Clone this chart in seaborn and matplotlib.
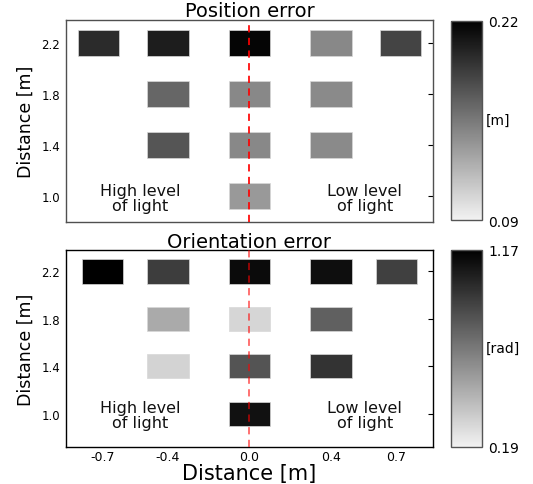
import numpy as np
import pandas as pd
import matplotlib
matplotlib.use("Agg")
import matplotlib.pyplot as plt
import matplotlib.colors as mcolors
import seaborn as sns

# Cell positions (lateral offset, distance) and measured errors
x_top = [-0.74, -0.4, 0.0, 0.4, 0.74, -0.4, 0.0, 0.4, -0.4, 0.0, 0.4, 0.0]
x_bottom = [-0.72, -0.4, 0.0, 0.4, 0.72, -0.4, 0.0, 0.4, -0.4, 0.0, 0.4, 0.0]
y_dist = [2.2, 2.2, 2.2, 2.2, 2.2, 1.8, 1.8, 1.8, 1.4, 1.4, 1.4, 1.0]
pos_err = [0.197, 0.204, 0.217, 0.147, 0.183, 0.165, 0.147, 0.146, 0.174, 0.147, 0.146, 0.138]
ori_err = [1.17, 0.923, 1.121, 1.109, 0.911, 0.482, 0.303, 0.781, 0.319, 0.826, 0.963, 1.101]

pos_range = (0.09, 0.22)
ori_range = (0.19, 1.17)
y_ticks = [1.0, 1.4, 1.8, 2.2]
x_tick_labels = ["-0.7", "-0.4", "0.0", "0.4", "0.7"]

sns.set_style("white")
plt.rcParams["font.family"] = ["DejaVu Sans"]
plt.rcParams["text.color"] = "black"
plt.rcParams["axes.labelcolor"] = "black"
plt.rcParams["xtick.color"] = "black"
plt.rcParams["ytick.color"] = "black"

cmap = sns.blend_palette(["#f2f2f2", "#000000"], as_cmap=True)

fig = plt.figure(figsize=(5.33, 4.85), dpi=100)
ax1 = fig.add_axes([0.1238, 0.5396, 0.6886, 0.4171])
ax2 = fig.add_axes([0.1238, 0.0763, 0.6886, 0.4052])
cax1 = fig.add_axes([0.8462, 0.5443, 0.0576, 0.4113])
cax2 = fig.add_axes([0.8462, 0.0763, 0.0576, 0.4068])

ax1.set_xlim(-0.9, 0.9)
ax1.set_ylim(0.797, 2.38)
ax2.set_xlim(-0.9, 0.9)
ax2.set_ylim(0.718, 2.377)


def rect_marker(ax, w=0.2, h=0.2):
    # rectangle marker that spans w x h data units
    p0 = ax.transData.transform((0, 0))
    p1 = ax.transData.transform((w, h))
    wpx, hpx = p1 - p0
    verts = [(-wpx / 2, -hpx / 2), (wpx / 2, -hpx / 2), (wpx / 2, hpx / 2),
             (-wpx / 2, hpx / 2), (-wpx / 2, -hpx / 2)]
    size = (max(wpx, hpx) * 72 / fig.dpi) ** 2
    return verts, size


def draw_panel(ax, cax, xs, vals, vrange, title, unit, line_alpha, title_pad):
    df = pd.DataFrame({"x": xs, "y": y_dist, "err": vals})
    verts, size = rect_marker(ax, 0.204, 0.204)
    sns.scatterplot(data=df, x="x", y="y", hue="err", palette=cmap, hue_norm=vrange,
                    marker=verts, s=size, edgecolor="#d8d8d8", linewidth=0.5,
                    legend=False, ax=ax, zorder=2)
    ax.axvline(0, color="red", lw=1.3, ls=(0, (4, 3)), alpha=line_alpha, zorder=3)
    ax.text(-0.534, 0.99, "High level\nof light", ha="center", va="center",
            fontsize=11.5, linespacing=1.0, color="#111111")
    ax.text(0.565, 0.99, "Low level\nof light", ha="center", va="center",
            fontsize=11.5, linespacing=1.0, color="#111111")
    ax.set_title(title, fontsize=14, pad=title_pad)
    ax.set_ylabel("Distance [m]", fontsize=12.5, labelpad=5)
    ax.set_xlabel("")
    ax.set_yticks(y_ticks)
    ax.set_yticklabels([f"{t:.1f}" for t in y_ticks])
    ax.tick_params(axis="y", which="both", left=False, right=True, direction="in",
                   length=3.5, labelsize=8.5, pad=4.3)
    for sp in ax.spines.values():
        sp.set_linewidth(1.0)

    norm = mcolors.Normalize(*vrange)
    sm = plt.cm.ScalarMappable(norm=norm, cmap=cmap)
    cb = fig.colorbar(sm, cax=cax, ticks=list(vrange))
    cb.ax.set_yticklabels([f"{v:.2f}" for v in vrange])
    cb.ax.tick_params(length=0, labelsize=10, pad=4.5)
    cb.outline.set_edgecolor("#555555")
    cb.outline.set_linewidth(1.0)
    cax.text(1.12, 0.5, unit, transform=cax.transAxes, ha="left", va="center", fontsize=10)


draw_panel(ax1, cax1, x_top, pos_err, pos_range, "Position error", "[m]", 0.95, 1.0)
draw_panel(ax2, cax2, x_bottom, ori_err, ori_range, "Orientation error", "[rad]", 0.6, 2.5)

ax1.set_xlim(-0.9, 0.9)
ax1.set_ylim(0.797, 2.38)
ax1.set_xticks([])
for sp in ax1.spines.values():
    sp.set_color("#505050")

ax2.set_xlim(-0.9, 0.9)
ax2.set_ylim(0.718, 2.377)
ax2.set_xticks(x_bottom[:5])
ax2.set_xticklabels(x_tick_labels)
ax2.tick_params(axis="x", length=0, labelsize=9, pad=2.5)
ax2.set_xlabel("Distance [m]", fontsize=15, labelpad=0)
for sp in ax2.spines.values():
    sp.set_color("black")

fig.savefig("out.png", dpi=100)
